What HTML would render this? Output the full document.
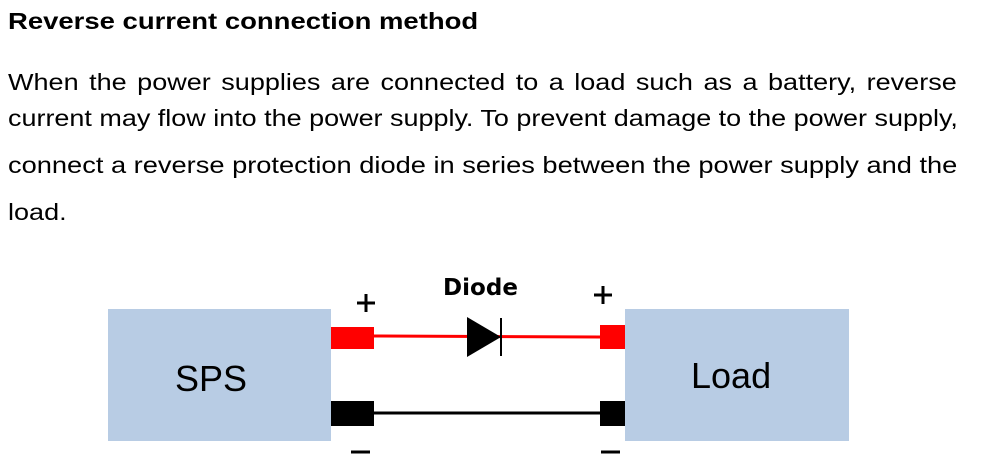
<!DOCTYPE html>
<html><head><meta charset="utf-8"><style>
body{margin:0;width:1007px;height:466px;background:#fff;position:relative;overflow:hidden;font-family:"Liberation Sans",Arial,sans-serif;color:#000}
.t{position:absolute;white-space:nowrap;line-height:1;transform-origin:0 0}
.j{position:absolute;left:8px;width:825px;text-align:justify;text-align-last:justify;font-size:23.5px;line-height:1;white-space:nowrap;transform:scaleX(1.15);transform-origin:0 0}
.b{position:absolute;background:#b8cce4}
.r{position:absolute}
</style></head><body>
<div class="t" style="left:8px;top:10px;font-size:23.5px;font-weight:bold;transform:scaleX(1.169)">Reverse current connection method</div>
<div class="j" style="top:71px">When the power supplies are connected to a load such as a battery, reverse</div>
<div class="t" style="left:8px;top:107px;font-size:23.5px;transform:scaleX(1.147)">current may flow into the power supply. To prevent damage to the power supply,</div>
<div class="t" style="left:8px;top:154px;font-size:23.5px;transform:scaleX(1.159)">connect a reverse protection diode in series between the power supply and the</div>
<div class="t" style="left:8px;top:201px;font-size:23.5px;transform:scaleX(1.15)">load.</div>

<div class="b" style="left:108px;top:309px;width:223px;height:132px"></div>
<div class="b" style="left:625px;top:309px;width:224px;height:132px"></div>
<div class="t" style="left:175px;top:361px;font-size:36px">SPS</div>
<div class="t" style="left:691px;top:358px;font-size:36px">Load</div>

<svg class="r" style="left:0;top:0" width="1007" height="466">
<rect x="331" y="327" width="43" height="22" fill="#f00"/>
<rect x="600" y="325" width="25" height="24" fill="#f00"/>
<line x1="374" y1="336" x2="600" y2="337" stroke="#f00" stroke-width="3"/>
<polygon points="467,317 501,337 467,357" fill="#000"/>
<line x1="501" y1="318" x2="501" y2="356" stroke="#000" stroke-width="2"/>
<rect x="331" y="401" width="43" height="25" fill="#000"/>
<rect x="600" y="401" width="25" height="25" fill="#000"/>
<line x1="374" y1="413" x2="600" y2="413" stroke="#000" stroke-width="3"/>
<line x1="357" y1="303" x2="375" y2="303" stroke="#000" stroke-width="3"/>
<line x1="366" y1="294" x2="366" y2="312" stroke="#000" stroke-width="3"/>
<line x1="594" y1="295" x2="612" y2="295" stroke="#000" stroke-width="3"/>
<line x1="603" y1="286" x2="603" y2="304" stroke="#000" stroke-width="3"/>
<line x1="351" y1="452" x2="370" y2="452" stroke="#000" stroke-width="3"/>
<line x1="601" y1="452" x2="620" y2="452" stroke="#000" stroke-width="3"/>
<text x="443" y="295" font-family="DejaVu Sans,sans-serif" font-weight="bold" font-size="23" textLength="75">Diode</text>
</svg>
</body></html>
